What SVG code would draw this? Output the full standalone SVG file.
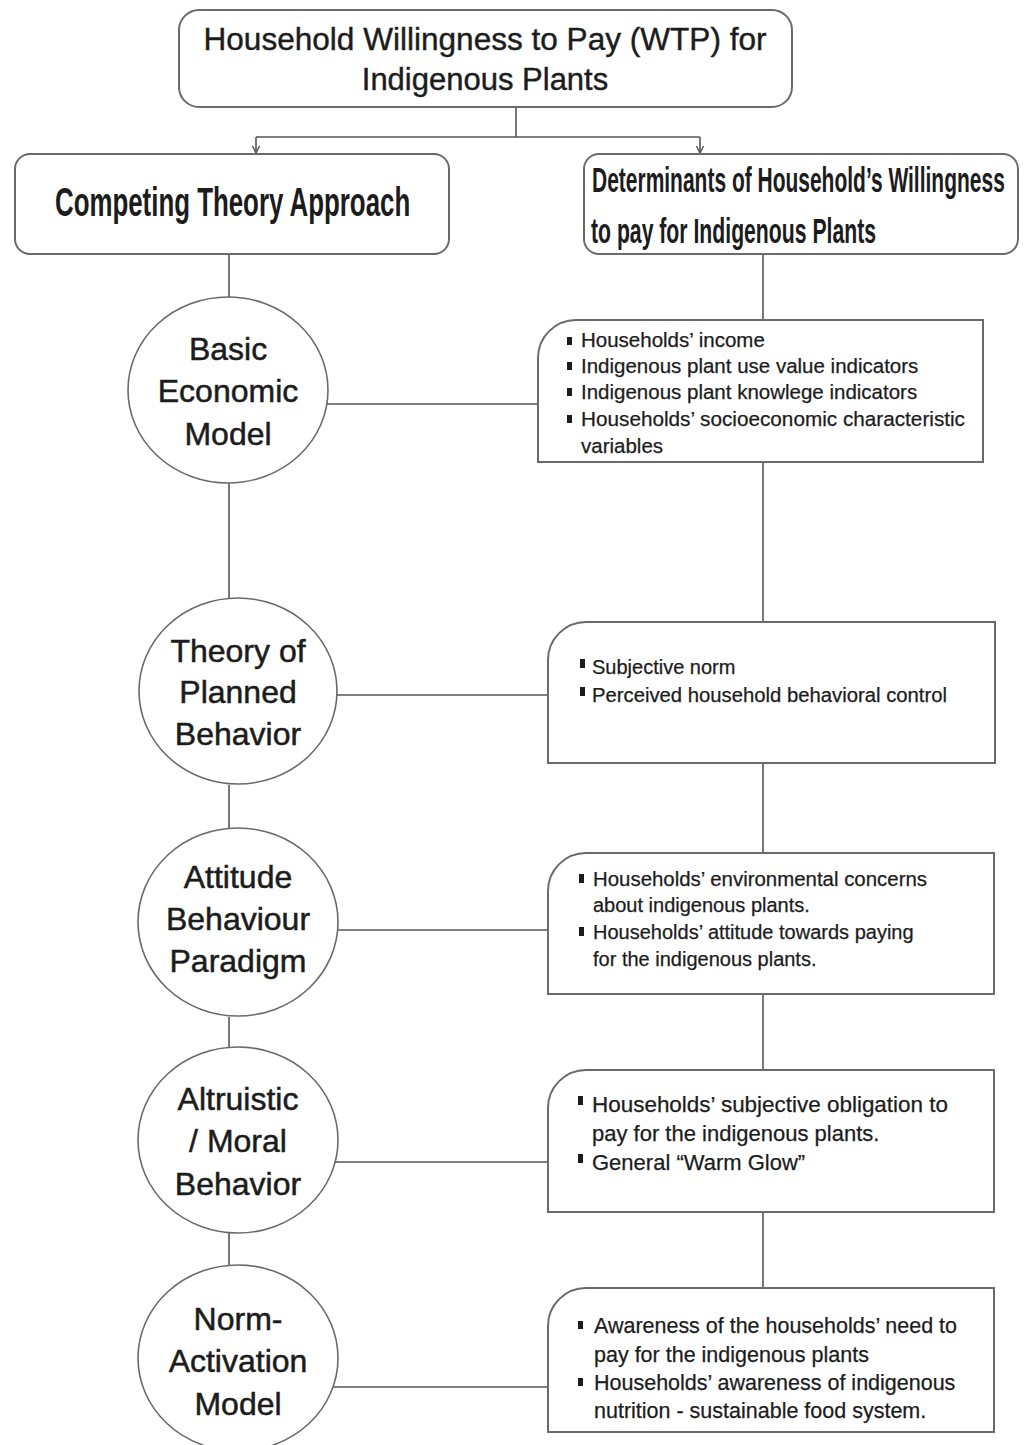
<svg xmlns="http://www.w3.org/2000/svg" width="1025" height="1445" viewBox="0 0 1025 1445">
<style>
.bg{fill:#ffffff}
.box{fill:#ffffff;stroke:#6a6a6a;stroke-width:2}
.circ{fill:#ffffff;stroke:#6a6a6a;stroke-width:1.6}
.ln{fill:none;stroke:#555555;stroke-width:1.6}
.t{font-family:"Liberation Sans",Arial,sans-serif;fill:#1c1c1c}
.title{font-size:31px;text-anchor:middle;stroke:#1c1c1c;stroke-width:0.4}
.head{font-size:40px;font-weight:bold}
.ctext{font-size:32px;text-anchor:middle;stroke:#1c1c1c;stroke-width:0.5}
.bt{font-size:20px;stroke:#1c1c1c;stroke-width:0.25}
.bul{fill:#1c1c1c}
</style>
<defs>
<marker id="arr" viewBox="0 0 10 10" refX="9" refY="5" markerWidth="10" markerHeight="10" orient="auto" markerUnits="userSpaceOnUse">
<path d="M2,1.5 L9,5 L2,8.5" fill="none" stroke="#555555" stroke-width="1.5"/>
</marker>
</defs>
<rect class="bg" x="0" y="0" width="1025" height="1445"/>

<g id="connectors">
<path class="ln" d="M516,107 V137"/>
<path class="ln" d="M256,137 H700"/>
<path class="ln" d="M256,137 V153" marker-end="url(#arr)"/>
<path class="ln" d="M700,137 V153" marker-end="url(#arr)"/>
<path class="ln" d="M229,254 V297"/>
<path class="ln" d="M229,483 V598"/>
<path class="ln" d="M229,785 V828"/>
<path class="ln" d="M229,1017 V1047"/>
<path class="ln" d="M229,1233 V1265"/>
<path class="ln" d="M763,254 V320"/>
<path class="ln" d="M763,462 V622"/>
<path class="ln" d="M763,763 V853"/>
<path class="ln" d="M763,994 V1070"/>
<path class="ln" d="M763,1212 V1288"/>
<path class="ln" d="M327,404 H538"/>
<path class="ln" d="M337,695 H548"/>
<path class="ln" d="M337,930 H548"/>
<path class="ln" d="M335,1162 H548"/>
<path class="ln" d="M333,1387 H548"/>
</g>

<g id="title">
<rect class="box" x="179" y="10" width="613" height="97" rx="20" ry="20"/>
<text class="t title" x="485" y="50" textLength="563" lengthAdjust="spacingAndGlyphs">Household Willingness to Pay (WTP) for</text>
<text class="t title" x="485" y="90">Indigenous Plants</text>
</g>

<g id="competing">
<rect class="box" x="15" y="154" width="434" height="100" rx="15" ry="15"/>
<g transform="translate(55 216) scale(0.632 1)">
<text class="t head" x="0" y="0" textLength="562" lengthAdjust="spacingAndGlyphs">Competing  Theory Approach</text>
</g>
</g>

<g id="determinants">
<rect class="box" x="584" y="154" width="434" height="100" rx="15" ry="15"/>
<g transform="translate(592 192) scale(0.6 1)">
<text class="t head" x="0" y="0" style="font-size:35px" textLength="688" lengthAdjust="spacingAndGlyphs">Determinants of Household’s Willingness</text>
</g>
<g transform="translate(591 243) scale(0.6 1)">
<text class="t head" x="0" y="0" style="font-size:35px" textLength="475" lengthAdjust="spacingAndGlyphs">to pay for Indigenous Plants</text>
</g>
</g>

<g id="basic-economic">
<ellipse class="circ" cx="228" cy="390" rx="100" ry="93"/>
<text class="t ctext" x="228" y="360">Basic</text>
<text class="t ctext" x="228" y="402">Economic</text>
<text class="t ctext" x="228" y="445">Model</text>
</g>

<g id="planned-behavior">
<ellipse class="circ" cx="238" cy="691" rx="99" ry="93"/>
<text class="t ctext" x="238" y="662">Theory of</text>
<text class="t ctext" x="238" y="703">Planned</text>
<text class="t ctext" x="238" y="745">Behavior</text>
</g>

<g id="attitude">
<ellipse class="circ" cx="238" cy="922" rx="100" ry="94"/>
<text class="t ctext" x="238" y="888">Attitude</text>
<text class="t ctext" x="238" y="930">Behaviour</text>
<text class="t ctext" x="238" y="972">Paradigm</text>
</g>

<g id="altruistic">
<ellipse class="circ" cx="238" cy="1140" rx="100" ry="93"/>
<text class="t ctext" x="238" y="1110">Altruistic</text>
<text class="t ctext" x="238" y="1152">/ Moral</text>
<text class="t ctext" x="238" y="1195">Behavior</text>
</g>

<g id="norm-activation">
<ellipse class="circ" cx="238" cy="1358" rx="100" ry="93"/>
<text class="t ctext" x="238" y="1330">Norm-</text>
<text class="t ctext" x="238" y="1372">Activation</text>
<text class="t ctext" x="238" y="1415">Model</text>
</g>

<g id="box-economic">
<path class="box" d="M576,320 H983 V462 H538 V358 A38,38 0 0 1 576,320 Z"/>
<rect class="bul" x="567" y="337" width="5" height="8"/>
<rect class="bul" x="567" y="362" width="5" height="8"/>
<rect class="bul" x="567" y="388" width="5" height="8"/>
<rect class="bul" x="567" y="415" width="5" height="8"/>
<text class="t bt" x="581" y="347" style="font-size:20.5px">Households’ income</text>
<text class="t bt" x="581" y="373" style="font-size:20.5px">Indigenous plant use value indicators</text>
<text class="t bt" x="581" y="399" style="font-size:20.5px">Indigenous plant knowlege indicators</text>
<text class="t bt" x="581" y="426" style="font-size:20.5px" textLength="384" lengthAdjust="spacingAndGlyphs">Households’ socioeconomic characteristic</text>
<text class="t bt" x="581" y="453" style="font-size:20.5px">variables</text>
</g>

<g id="box-planned">
<path class="box" d="M586,622 H995 V763 H548 V660 A38,38 0 0 1 586,622 Z"/>
<rect class="bul" x="580" y="659" width="5" height="9"/>
<rect class="bul" x="580" y="687" width="5" height="9"/>
<text class="t bt" x="592" y="674">Subjective norm</text>
<text class="t bt" x="592" y="702" textLength="355" lengthAdjust="spacingAndGlyphs">Perceived household behavioral control</text>
</g>

<g id="box-attitude">
<path class="box" d="M586,853 H994 V994 H548 V891 A38,38 0 0 1 586,853 Z"/>
<rect class="bul" x="579" y="874" width="5" height="9"/>
<rect class="bul" x="579" y="927" width="5" height="9"/>
<text class="t bt" x="593" y="886" textLength="334" lengthAdjust="spacingAndGlyphs">Households’ environmental concerns</text>
<text class="t bt" x="593" y="912">about indigenous plants.</text>
<text class="t bt" x="593" y="939">Households’ attitude towards paying</text>
<text class="t bt" x="593" y="966">for the indigenous plants.</text>
</g>

<g id="box-altruistic">
<path class="box" d="M586,1070 H994 V1212 H548 V1108 A38,38 0 0 1 586,1070 Z"/>
<rect class="bul" x="578" y="1096" width="5" height="9"/>
<rect class="bul" x="578" y="1154" width="5" height="9"/>
<text class="t bt" x="592" y="1112" style="font-size:22px" textLength="356" lengthAdjust="spacingAndGlyphs">Households’ subjective obligation to</text>
<text class="t bt" x="592" y="1141" style="font-size:22px">pay for the indigenous plants.</text>
<text class="t bt" x="592" y="1170" style="font-size:22px">General  “Warm Glow”</text>
</g>

<g id="box-norm">
<path class="box" d="M586,1288 H994 V1432 H548 V1326 A38,38 0 0 1 586,1288 Z"/>
<rect class="bul" x="578" y="1321" width="5" height="8"/>
<rect class="bul" x="578" y="1378" width="5" height="8"/>
<text class="t bt" x="594" y="1333" style="font-size:21.5px" textLength="363" lengthAdjust="spacingAndGlyphs">Awareness of the households’ need to</text>
<text class="t bt" x="594" y="1362" style="font-size:21.5px">pay for the indigenous plants</text>
<text class="t bt" x="594" y="1390" style="font-size:21.5px">Households’ awareness of indigenous</text>
<text class="t bt" x="594" y="1418" style="font-size:21.5px">nutrition - sustainable food system.</text>
</g>
</svg>
